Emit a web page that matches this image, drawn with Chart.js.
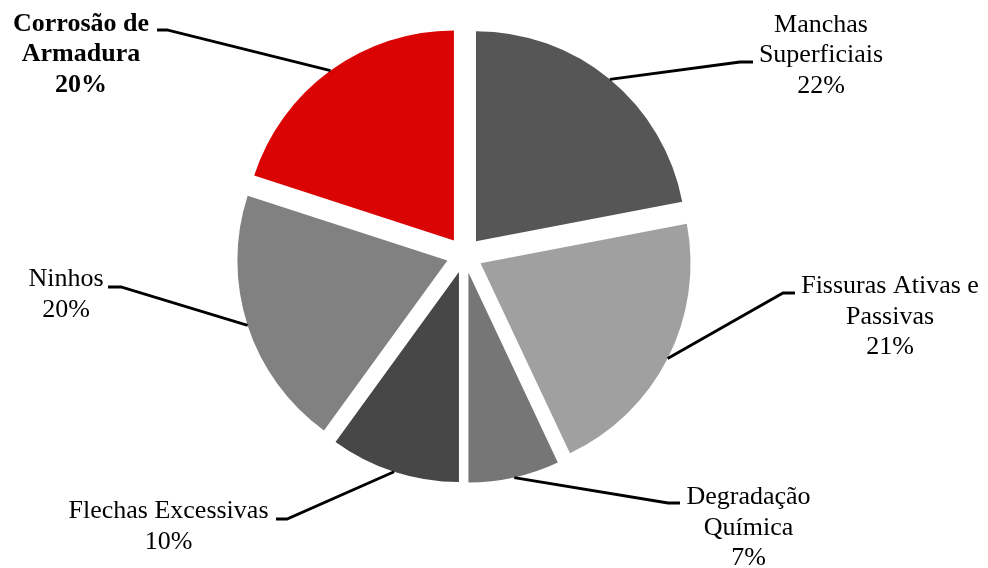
<!DOCTYPE html>
<html lang="pt">
<head>
<meta charset="utf-8">
<title>Manifestações patológicas</title>
<script src="https://cdn.jsdelivr.net/npm/chart.js@4.4.1/dist/chart.umd.min.js"></script>
<style>
  html, body { margin: 0; padding: 0; background: #ffffff; }
  #wrap { width: 988px; height: 568px; }
</style>
</head>
<body>
<div id="wrap"><canvas id="pie" width="988" height="568"></canvas></div>
<script>
// Categories (each split into the lines shown in its label) and their shares in %
const categories = [
  ['Manchas', 'Superficiais'],
  ['Fissuras Ativas e', 'Passivas'],
  ['Degradação', 'Química'],
  ['Flechas Excessivas'],
  ['Ninhos'],
  ['Corrosão de', 'Armadura']
];
const percentages = [22, 21, 7, 10, 20, 20];
const sliceColors = ['#565656', '#a0a0a0', '#767676', '#474747', '#818181', '#da0404'];
const boldLabel = [false, false, false, false, false, true];

// Label placement: text centre x, first baseline y, leader elbow and leader end
const labelLayout = [
  { cx: 821, y: 31.5, elbow: [740, 62], end: [753, 62] },
  { cx: 890, y: 293, elbow: [783, 293], end: [795, 293] },
  { cx: 748.5, y: 504, elbow: [668, 503], end: [680, 503] },
  { cx: 168.5, y: 518, elbow: [287, 519], end: [276, 519] },
  { cx: 66, y: 286, elbow: [121, 287], end: [108, 287] },
  { cx: 81, y: 30.5, elbow: [167, 30], end: [157, 30] }
];

const EXPLODE = 18;       // radial displacement of every slice
const LINE_GAP = 30.5;    // distance between label lines
const FONT = '"Liberation Serif", "Times New Roman", serif';

// Draws each arc moved outward along its bisector
const explodePlugin = {
  id: 'explodeSlices',
  beforeDatasetDraw(chart, args) {
    const ctx = chart.ctx;
    args.meta.data.forEach(arc => {
      const p = arc.getProps(['startAngle', 'endAngle']);
      const mid = (p.startAngle + p.endAngle) / 2;
      ctx.save();
      ctx.translate(Math.cos(mid) * EXPLODE, Math.sin(mid) * EXPLODE);
      arc.draw(ctx);
      ctx.restore();
    });
    return false;
  }
};

// Leader lines and category labels
const labelPlugin = {
  id: 'sliceLabels',
  afterDatasetsDraw(chart) {
    const ctx = chart.ctx;
    const meta = chart.getDatasetMeta(0);
    meta.data.forEach((arc, i) => {
      const p = arc.getProps(['x', 'y', 'startAngle', 'endAngle', 'outerRadius']);
      const mid = (p.startAngle + p.endAngle) / 2;
      const r = p.outerRadius + EXPLODE;
      const sx = p.x + Math.cos(mid) * r;
      const sy = p.y + Math.sin(mid) * r;
      const L = labelLayout[i];

      ctx.save();
      ctx.strokeStyle = '#000000';
      ctx.lineWidth = 2.8;
      ctx.lineJoin = 'miter';
      ctx.beginPath();
      ctx.moveTo(sx, sy);
      ctx.lineTo(L.elbow[0], L.elbow[1]);
      ctx.lineTo(L.end[0], L.end[1]);
      ctx.stroke();

      ctx.fillStyle = '#000000';
      ctx.textAlign = 'center';
      ctx.textBaseline = 'alphabetic';
      ctx.font = (boldLabel[i] ? 'bold ' : '') + '26px ' + FONT;
      const lines = categories[i].concat([percentages[i] + '%']);
      lines.forEach((t, k) => ctx.fillText(t, L.cx, L.y + k * LINE_GAP));
      ctx.restore();
    });
  }
};

new Chart(document.getElementById('pie'), {
  type: 'pie',
  data: {
    labels: categories.map(c => c.join(' ')),
    datasets: [{
      data: percentages,
      backgroundColor: sliceColors,
      borderWidth: 0,
      hoverOffset: 0
    }]
  },
  options: {
    responsive: false,
    animation: false,
    events: [],
    layout: { padding: { top: 45, bottom: 103, left: 100, right: 159 } },
    plugins: {
      legend: { display: false },
      tooltip: { enabled: false }
    }
  },
  plugins: [explodePlugin, labelPlugin]
});
</script>
</body>
</html>
